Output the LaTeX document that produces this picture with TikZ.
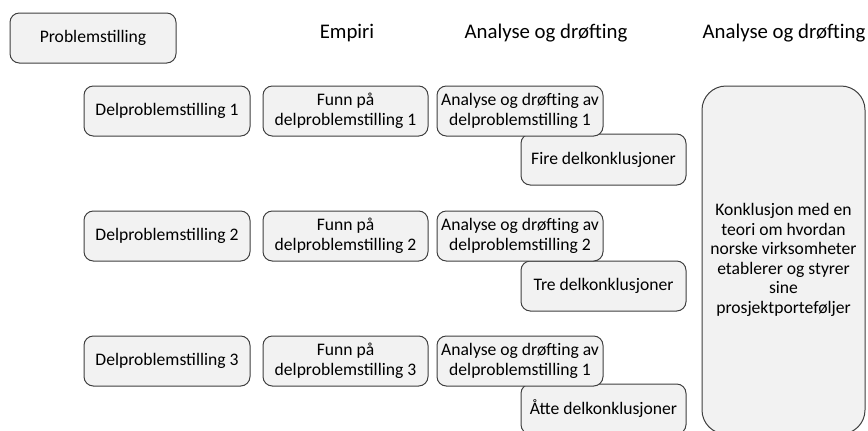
\documentclass[tikz,border=0pt]{standalone}
\usepackage{fontspec}
\setmainfont{Carlito}
\begin{document}
\begin{tikzpicture}[x=0.75pt,y=-0.75pt,
  box/.style={draw=boxline, fill=boxfill, line width=0.75pt, rounded corners=7pt,
    align=center, inner sep=0pt, font=\fontsize{13.2}{14.6}\selectfont},
  bx/.style 2 args={minimum width=#1*0.75pt, minimum height=#2*0.75pt},
  head/.style={font=\fontsize{15.6}{18}\selectfont, inner sep=0pt}]
\definecolor{boxfill}{HTML}{F2F2F2}
\definecolor{boxline}{HTML}{3F3F3F}
\useasboundingbox (0,0) rectangle (868,430);
\fill[white] (0,0) rectangle (868,430);

% column headings
\node[head] (hemp) at (347,33) {Empiri};
\node[head] (hana) at (546,33) {Analyse og drøfting};
\node[head] (hkon) at (784,33) {Analyse og drøfting};

% main problem
\node[box, bx={166}{50}] (prob) at (93,38) {Problemstilling};

% sub-problems
\node[box, bx={166}{50}] (dp1) at (167,111) {Delproblemstilling 1};
\node[box, bx={166}{50}] (dp2) at (167,236) {Delproblemstilling 2};
\node[box, bx={166}{50}] (dp3) at (167,361) {Delproblemstilling 3};

% findings
\node[box, bx={165}{50}] (funn1) at (345.5,111) {Funn på\\delproblemstilling 1};
\node[box, bx={165}{50}] (funn2) at (345.5,236) {Funn på\\delproblemstilling 2};
\node[box, bx={165}{50}] (funn3) at (345.5,361) {Funn på\\delproblemstilling 3};

% partial conclusions
\node[box, bx={165}{51}] (konk1) at (603.5,159.5) {Fire delkonklusjoner};
\node[box, bx={165}{50}] (konk2) at (603.5,286) {Tre delkonklusjoner};
\node[box, bx={165}{50}] (konk3) at (603.5,409) {Åtte delkonklusjoner};

% analysis
\node[box, bx={166}{50}] (ana1) at (520,111) {Analyse og drøfting av\\delproblemstilling 1};
\node[box, bx={166}{50}] (ana2) at (520,236) {Analyse og drøfting av\\delproblemstilling 2};
\node[box, bx={166}{50}] (ana3) at (520,361) {Analyse og drøfting av\\delproblemstilling 1};

% overall conclusion
\node[box, bx={163}{348}, rounded corners=18pt] (konk) at (783.5,260)
  {Konklusjon med en\\teori om hvordan\\norske virksomheter\\etablerer og styrer\\sine\\prosjektporteføljer};
\end{tikzpicture}
\end{document}
